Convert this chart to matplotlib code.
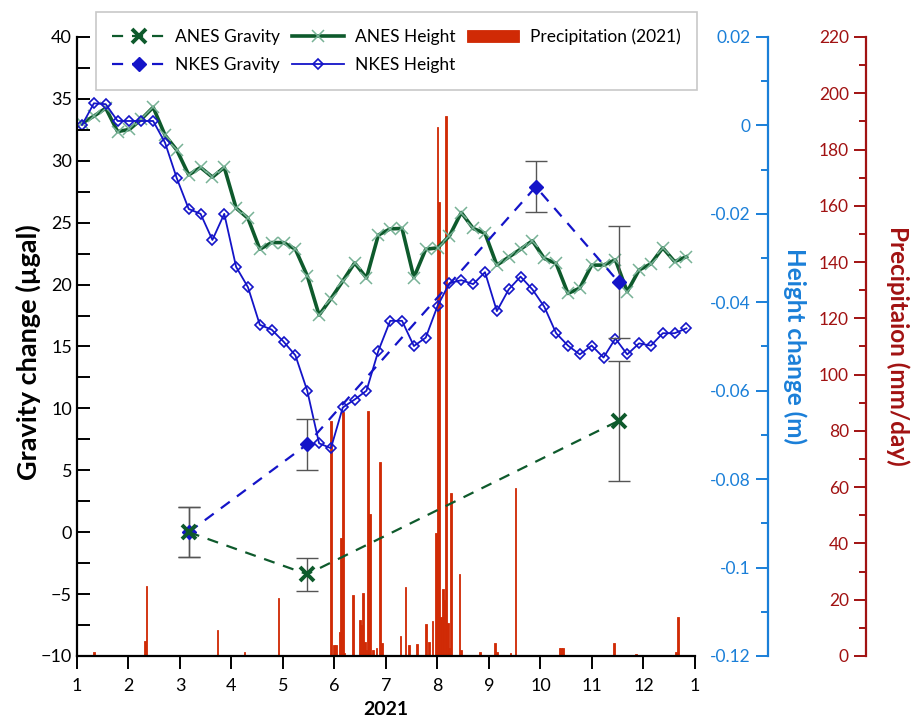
import numpy as np
import pandas as pd
import matplotlib
matplotlib.use("Agg")
import matplotlib.pyplot as plt
from matplotlib.ticker import MultipleLocator, FuncFormatter

plt.rcParams['font.family'] = ['Lato', 'DejaVu Sans']

# ---- data ----
week_start = '2021-01-04'   # weekly GNSS height solutions
nkes_height = [0.0001, 0.0050, 0.0048, 0.0010, 0.0010, 0.0010, 0.0010, -0.0039,
               -0.0120, -0.0189, -0.0200, -0.0259, -0.0200, -0.0320, -0.0366, -0.0451,
               -0.0462, -0.0489, -0.0520, -0.0600, -0.0719, -0.0730, -0.0638, -0.0620,
               -0.0600, -0.0510, -0.0442, -0.0442, -0.0499, -0.0480, -0.0408, -0.0357,
               -0.0350, -0.0359, -0.0332, -0.0420, -0.0371, -0.0342, -0.0371, -0.0410,
               -0.0470, -0.0498, -0.0518, -0.0498, -0.0525, -0.0482, -0.0518, -0.0493,
               -0.0498, -0.0470, -0.0470, -0.0459]
anes_height = [0.0005, 0.0021, 0.0039, -0.0014, -0.0009, 0.0014, 0.0041, -0.0022,
               -0.0056, -0.0112, -0.0095, -0.0117, -0.0095, -0.0187, -0.0210, -0.0280,
               -0.0265, -0.0265, -0.0280, -0.0340, -0.0429, -0.0392, -0.0352, -0.0311,
               -0.0345, -0.0248, -0.0234, -0.0233, -0.0344, -0.0280, -0.0277, -0.0250,
               -0.0197, -0.0233, -0.0244, -0.0316, -0.0298, -0.0280, -0.0261, -0.0301,
               -0.0312, -0.0380, -0.0368, -0.0316, -0.0316, -0.0304, -0.0376, -0.0327,
               -0.0313, -0.0277, -0.0308, -0.0297]

nkes_grav_dates = ['2021-03-08', '2021-05-17', '2021-09-29', '2021-11-17']
nkes_grav = [0.0, 7.1, 27.9, 20.2]
nkes_err = [2.0, 2.05, 2.05, 4.5]
anes_grav_dates = ['2021-03-08', '2021-05-17', '2021-11-17']
anes_grav = [0.0, -3.4, 9.0]
anes_err = [2.0, 1.35, 4.85]

# daily rainfall (day of year, mm/day), only rainy days
rain_day = [7, 11, 41, 42, 54, 84, 100, 120, 151, 153, 154, 156, 157, 158, 159,
            164, 168, 169, 170, 171, 172, 173, 174, 176, 178, 180, 181, 192, 195,
            197, 202, 207, 209, 211, 213, 214, 215, 216, 217, 218, 219, 220, 221,
            222, 227, 228, 239, 248, 249, 257, 260, 286, 287, 288, 318, 331, 355,
            356, 362]
rain_mm = [0.5, 1.4, 5.3, 24.9, 0.5, 9.2, 1.3, 20.7, 83.4, 4.0, 4.0, 8.5, 42.0,
           86.6, 1.0, 21.8, 12.9, 11.0, 22.4, 5.0, 2.0, 87.2, 50.3, 2.3, 3.0, 68.8,
           4.5, 7.0, 24.4, 4.0, 4.3, 11.3, 5.0, 12.5, 43.7, 188.0, 161.4, 14.0, 23.7,
           19.9, 191.9, 11.7, 3.0, 57.8, 29.2, 2.0, 1.5, 4.7, 1.5, 1.0, 59.7, 2.7,
           2.7, 2.7, 4.7, 0.6, 1.5, 13.8, 0.5]

month_ticks = list(range(1, 14))
month_labels = [str(m) for m in range(1, 13)] + ['1']


def month_pos(dates):
    d = pd.to_datetime(dates)
    return 1 + (np.asarray(d.dayofyear) - 1) * 12 / 365


# colours
green = '#0e5a2c'
green_light = '#78b296'
blue = '#1414c8'
axis_blue = '#1a7fd8'
axis_red = '#a11212'
bar_red = '#d02a05'

weeks = month_pos(pd.date_range(week_start, periods=len(nkes_height), freq='7D'))
rain_x = 1 + (np.array(rain_day) - 1) * 12 / 365

fig = plt.figure(figsize=(9.12, 7.25), dpi=100)
ax = fig.add_axes([0.0844, 0.0952, 0.6776, 0.8538])
ax2 = ax.twinx()
ax3 = ax.twinx()
ax3.set_zorder(1)
ax2.set_zorder(2)
ax.set_zorder(3)
ax.patch.set_visible(False)

# precipitation bars
h_rain = ax3.bar(rain_x, rain_mm, width=12 / 365, color=bar_red, edgecolor=bar_red,
                 linewidth=0.6, label='Precipitation (2021)')

# heights
h_ah, = ax2.plot(weeks, anes_height, '-', color=green, lw=2.6, marker='x', ms=9,
                 mec=green_light, mew=1.1, label='ANES Height')
h_nh, = ax2.plot(weeks, nkes_height, '-', color=blue, lw=1.3, marker='D', ms=5.5,
                 mfc='none', mec=blue, mew=1.2, label='NKES Height')

# gravity
ax.errorbar(month_pos(nkes_grav_dates), nkes_grav, yerr=nkes_err, fmt='none',
            ecolor='#555555', elinewidth=1, capsize=8, capthick=1)
ax.errorbar(month_pos(anes_grav_dates), anes_grav, yerr=anes_err, fmt='none',
            ecolor='#555555', elinewidth=1, capsize=8, capthick=1)
h_ng, = ax.plot(month_pos(nkes_grav_dates), nkes_grav, color=blue, ls=(0, (5, 4)),
                lw=1.6, marker='D', ms=7.5, mfc=blue, mec=blue, label='NKES Gravity')
h_ag, = ax.plot(month_pos(anes_grav_dates), anes_grav, color=green, ls=(0, (5, 4)),
                lw=1.6, marker='x', ms=10, mew=2.8, label='ANES Gravity')

# main axis
ax.set_xlim(1, 13)
ax.set_ylim(-10, 40)
ax.set_xticks(month_ticks)
ax.set_xticklabels(month_labels)
ax.yaxis.set_major_locator(MultipleLocator(5))
ax.yaxis.set_minor_locator(MultipleLocator(2.5))
for s in ['top', 'right']:
    ax.spines[s].set_visible(False)
for s in ['left', 'bottom']:
    ax.spines[s].set_linewidth(1.6)
ax.tick_params(axis='y', which='both', direction='in', length=9, width=1.4, labelsize=13)
ax.tick_params(axis='x', direction='out', length=9, width=1.4, pad=7, labelsize=13)
ax.set_xlabel('2021', fontsize=14, fontweight='bold', labelpad=5)

fmt = FuncFormatter(lambda v, p: '0' if abs(v) < 1e-9 else f'{v:g}')


def side_axis(a, pos, color, lo, hi, major, minor):
    for s in a.spines.values():
        s.set_visible(False)
    a.spines['left'].set_visible(True)
    a.spines['left'].set_position(('axes', pos))
    a.spines['left'].set_color(color)
    a.spines['left'].set_linewidth(1.6)
    a.yaxis.set_ticks_position('left')
    a.set_ylim(lo, hi)
    a.yaxis.set_major_locator(MultipleLocator(major))
    a.yaxis.set_minor_locator(MultipleLocator(minor))
    a.yaxis.set_major_formatter(fmt)
    a.tick_params(axis='y', which='major', direction='out', length=9, width=1.4,
                  colors=color, labelsize=12.5)
    a.tick_params(axis='y', which='minor', direction='out', length=5, width=1.4,
                  colors=color)


side_axis(ax2, 1.118, axis_blue, -0.12, 0.02, 0.02, 0.01)
side_axis(ax3, 1.277, axis_red, 0, 220, 20, 10)

fig.text(0.031, 0.514, 'Gravity change (µgal)', rotation=90, ha='center', va='center',
         fontsize=19.5, fontweight='bold')
fig.text(795 / 912, 1 - 346 / 725, 'Height change (m)', rotation=270, ha='center',
         va='center', fontsize=17.5, fontweight='bold', color=axis_blue)
fig.text(898 / 912, 1 - 346 / 725, 'Precipitaion (mm/day)', rotation=270, ha='center',
         va='center', fontsize=17.5, fontweight='bold', color=axis_red)

leg = fig.legend([h_ag, h_ng, h_ah, h_nh, h_rain],
                 ['ANES Gravity', 'NKES Gravity', 'ANES Height', 'NKES Height',
                  'Precipitation (2021)'],
                 ncol=3, loc='upper left', bbox_to_anchor=(96 / 912, 1 - 12 / 725),
                 borderaxespad=0, fontsize=12.5, handlelength=3.0, handletextpad=0.6,
                 columnspacing=0.7, labelspacing=0.7, borderpad=0.95, fancybox=False,
                 framealpha=1, edgecolor='#c8c8c8')
leg.get_frame().set_linewidth(1.2)
leg.set_zorder(10)

fig.savefig('out.png', dpi=100)
